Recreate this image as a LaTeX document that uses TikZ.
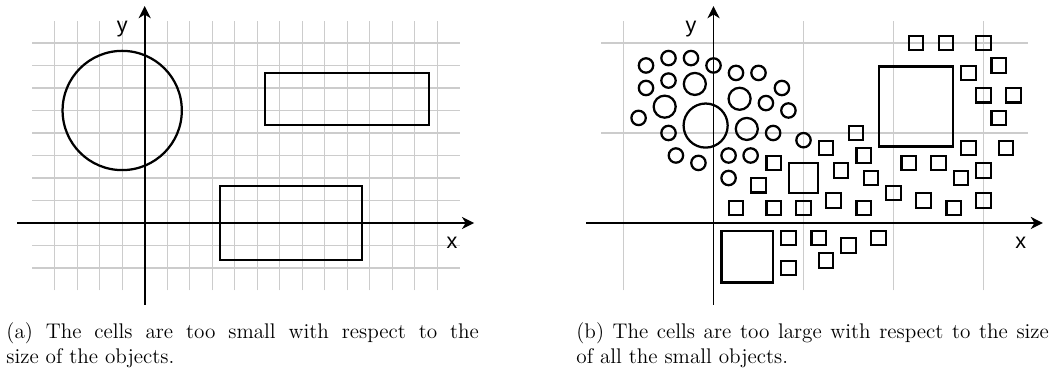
\documentclass[tikz,border=0pt]{standalone}
\usepackage{fontspec}
\newfontfamily\labelfont{Liberation Sans}
\usetikzlibrary{arrows.meta}
\begin{document}
\begin{tikzpicture}[x=12pt,y=12pt,
  gridline/.style={draw=black!20, line width=0.55pt},
  axis/.style={line width=0.9pt, -{Stealth[length=6.5pt,width=6.5pt,inset=2pt]}},
  obj/.style={line width=1.2pt},
  axlabel/.style={font=\labelfont\fontsize{11.5}{13}\selectfont, inner sep=0pt},
  captext/.style={text width=252pt, align=justify, inner sep=0pt, anchor=north west, font=\fontsize{11.3}{13}\selectfont}]
\useasboundingbox (-6.431,-6.622) rectangle (40.502,9.911);

% ---------- panel (a) ----------
\draw[gridline, step=1] (-4.999,-2.999) grid (13.999,8.999);
\coordinate (axL) at (-5.66,0);
\coordinate (axR) at (14.64,0);
\coordinate (ayB) at (0,-3.64);
\coordinate (ayT) at (0,9.64);
\draw[axis] (axL) -- (axR);
\draw[axis] (ayB) -- (ayT);
\node[axlabel] (xa) at (13.66,-0.9) {x};
\node[axlabel] (ya) at (-1.0,8.6) {y};
\draw[obj] (-1,5) circle (2.65);
\draw[obj] (5.35,4.35) rectangle (12.65,6.65);
\draw[obj] (3.35,-1.65) rectangle (9.65,1.65);

% ---------- panel (b) ----------
\begin{scope}[shift={(25.28,0)}]
\draw[gridline, step=4] (-4.999,-2.999) grid (13.999,8.999);
\coordinate (bxL) at (-5.66,0);
\coordinate (bxR) at (14.64,0);
\coordinate (byB) at (0,-3.64);
\coordinate (byT) at (0,9.64);
\draw[axis] (bxL) -- (bxR);
\draw[axis] (byB) -- (byT);
\node[axlabel] (xb) at (13.66,-0.9) {x};
\node[axlabel] (yb) at (-1.0,8.6) {y};
% circles
\foreach \p in {(-3,7),(-2,7.33),(-1,7.33),(0,7),(-3,6),(-2,6.33),(-3.33,4.67),(-2,4),(-1.67,3),(-0.67,2.67),(1,6.67),(2,6.67),(3.04,6),(2.33,5.33),(3.33,5),(2.65,4),(0.67,3),(1.65,3),(0.67,2),(4,3.68)}
  \draw[obj] \p circle (0.32);
\foreach \p in {(-0.83,6.18),(-2.17,5.17),(1.16,5.52),(1.48,4.18)}
  \draw[obj] \p circle (0.49);
\draw[obj] (-0.35,4.33) circle (0.98);
% squares
\foreach \p in {(9,8),(10.33,8),(12,8),(12.67,7),(11.33,6.67),(12,5.67),(13.33,5.67),(12.67,4.67),(11.33,3.33),(13,3.33),(12,2.33),(11,2),(10,2.67),(8.67,2.67),(12,1),(10.67,0.67),(9.33,1),(8,1.33),(7,2),(6.67,3),(6.33,4),(5,3.33),(5.67,2.33),(5.33,1),(6.67,0.67),(4,0.67),(2.67,0.67),(1,0.67),(2,1.67),(2.67,2.67),(3.33,-0.67),(3.33,-2),(4.67,-0.67),(5,-1.67),(6,-1),(7.33,-0.67)}
  \draw[obj] \p ++(-0.32,-0.32) rectangle ++(0.64,0.64);
\draw[obj] (4,2) ++(-0.655,-0.655) rectangle ++(1.31,1.31);
\draw[obj] (1.5,-1.5) ++(-1.15,-1.15) rectangle ++(2.3,2.3);
\draw[obj] (9,5.18) ++(-1.63,-1.78) rectangle ++(3.26,3.56);
\end{scope}

% ---------- captions ----------
\node[captext] (capa) at (-6.16,-4.42) {(a) The cells are too small with respect to the\linebreak size of the objects.};
\node[captext] (capb) at (19.17,-4.42) {(b) The cells are too large with respect to the size\linebreak of all the small objects.};
\end{tikzpicture}
\end{document}
